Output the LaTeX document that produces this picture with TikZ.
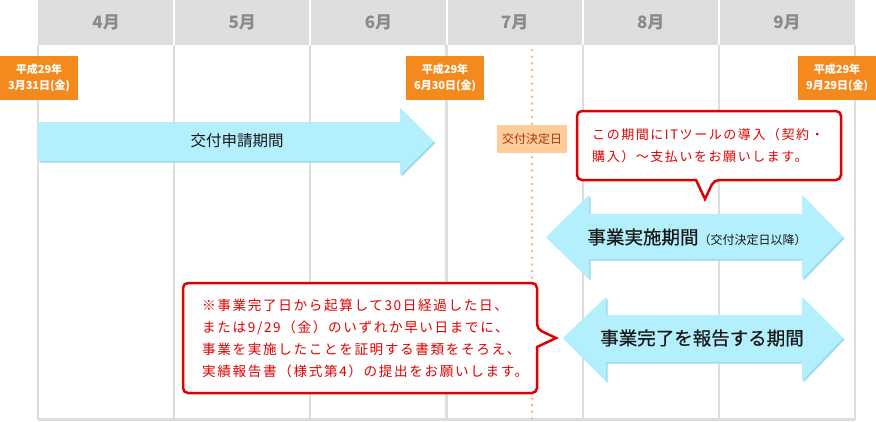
\documentclass[tikz,border=0pt]{standalone}
\usepackage{fontspec}
\setmainfont{Noto Sans CJK JP}
\newfontfamily\jpsp[LetterSpace=12]{Noto Sans CJK JP}
\newfontfamily\jpmed[FakeBold=0.6]{Noto Sans CJK JP}
\definecolor{HeadGrey}{HTML}{DEDEDE}
\definecolor{GridGrey}{HTML}{DDDDDD}
\definecolor{MonthGrey}{HTML}{8A8A8A}
\definecolor{DateOrange}{HTML}{F4891E}
\definecolor{DotOrange}{HTML}{F8B878}
\definecolor{PaleOrange}{HTML}{FFCC99}
\definecolor{BrownText}{HTML}{A33A0F}
\definecolor{ArrowCyan}{HTML}{B3EFFC}
\definecolor{ArrowShade}{HTML}{98DBEC}
\definecolor{NoteRed}{HTML}{E00000}

\begin{document}
\begin{tikzpicture}[x=1pt,y=-1pt,every node/.style={inner sep=0pt},
  month/.style={text=MonthGrey,font=\fontsize{17}{17}\selectfont\bfseries},
  gridline/.style={draw=GridGrey,line width=2.2pt},
  datebox/.style={fill=DateOrange,text=white,minimum width=78pt,minimum height=44pt,align=center,font=\fontsize{11}{16}\selectfont\bfseries},
  decidebox/.style={fill=PaleOrange,text=BrownText,minimum width=70pt,minimum height=28pt,font=\fontsize{12}{12}\selectfont},
  balloon/.style={draw=NoteRed,fill=white,line width=2.5pt,rounded corners=5pt,line join=miter},
  notetext/.style={text=NoteRed,anchor=west,align=left,font=\jpsp\fontsize{13}{22}\selectfont},
  period/.style={text=black!90}]
  \useasboundingbox (0,0) rectangle (876,421);

  \fill[HeadGrey] (38,0) rectangle (855,45);
  \foreach \i in {1,...,5}
    \draw[white,line width=2pt] ({38+136.17*\i},0) -- ({38+136.17*\i},45);
  \foreach \i in {0,...,6}
    \draw[gridline] ({38+136.17*\i},45) -- ({38+136.17*\i},420);
  \draw[gridline] (38,419.5) -- (855,419.5);
  \foreach \m [count=\i from 0] in {4,...,9}
    \node[month] (m\m) at ({38+136.17*(\i+0.5)},22) {{\m}月};

  \coordinate (dtop) at (532,50);
  \coordinate (dbot) at (532,420);
  \draw[DotOrange,line width=2.8pt,line cap=round,dash pattern=on 0pt off 6.7pt] (dtop) -- (dbot);

  \node[datebox] (dStart) at (39,78) {平成29年\\3月31日(金)};
  \node[datebox] (dApply) at (445,78) {平成29年\\6月30日(金)};
  \node[datebox] (dEnd) at (837,78) {平成29年\\9月29日(金)};

  \foreach \d/\c in {1.5/ArrowShade,0/ArrowCyan}{
    \fill[\c,shift={(\d,\d)}] (38,122) -- (400,122) -- (400,108) -- (434,141.5) -- (400,175) -- (400,161) -- (38,161) -- cycle;
    \fill[\c,shift={(\d,\d)}] (546,237) -- (589,195) -- (589,214) -- (802,214) -- (802,195) -- (843,237)
      -- (802,279) -- (802,259) -- (589,259) -- (589,279) -- cycle;
    \fill[\c,shift={(\d,\d)}] (563,338) -- (606,297) -- (606,315) -- (802,315) -- (802,297) -- (843,338)
      -- (802,381) -- (802,362) -- (606,362) -- (606,381) -- cycle;
  }
  \node[period,font=\fontsize{15.5}{15.5}\selectfont] (pApply) at (237,141) {交付申請期間};
  \node[period] (pWork) at (697,237) {{\jpmed\fontsize{18.5}{18.5}\selectfont 事業実施期間}{\fontsize{12}{12}\selectfont（交付決定日以降）}};
  \node[period,font=\jpmed\fontsize{18.5}{18.5}\selectfont] (pReport) at (702,338) {事業完了を報告する期間};

  \node[decidebox] (decide) at (532,139) {交付決定日};

  \draw[balloon] (577,111) -- (841,111) -- (841,180) -- (714,180) [sharp corners]-- (705,199) -- (696,180) [rounded corners=5pt]-- (577,180) -- cycle;
  \node[notetext] (noteIT) at (592,146) {この期間にITツールの導入（契約・\\購入）～支払いをお願いします。};

  \draw[balloon] (183,283) -- (537,283) -- (537,329) [sharp corners]-- (556,338) -- (537,347) [rounded corners=5pt]-- (537,393) -- (183,393) -- cycle;
  \node[notetext,font=\jpsp\fontsize{13.6}{22}\selectfont] (noteReport) at (202,338) {※事業完了日から起算して30日経過した日、\\または9/29（金）のいずれか早い日までに、\\事業を実施したことを証明する書類をそろえ、\\実績報告書（様式第4）の提出をお願いします。};
\end{tikzpicture}
\end{document}
